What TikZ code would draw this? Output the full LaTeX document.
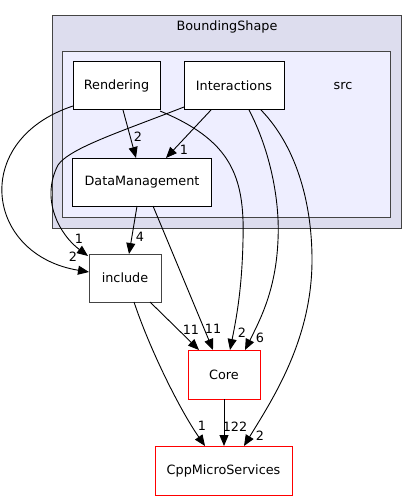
\documentclass[tikz,border=0pt]{standalone}
\usepackage{fontspec}
\setmainfont{DejaVu Sans}
\usetikzlibrary{arrows.meta}
\definecolor{clouter}{HTML}{DDDDEE}
\definecolor{clinner}{HTML}{EEEEFF}
\definecolor{clborder}{HTML}{444444}
\tikzset{
  box/.style={draw=black, fill=white, line width=1pt, inner sep=0pt, font=\fontsize{12.8}{14}\selectfont},
  redbox/.style={box, draw=red},
  graybox/.style={box, draw=clborder},
  dep/.style={draw=black, line width=0.9pt, -{Triangle[length=11pt,width=9pt]}},
  lab/.style={font=\fontsize{12.8}{14}\selectfont, inner sep=0pt},
  cltitle/.style={font=\fontsize{12.8}{14}\selectfont, inner sep=0pt}
}
\begin{document}
\begin{tikzpicture}[x=1pt,y=-1pt]
\useasboundingbox (0,0) rectangle (417,500);
% clusters
\draw[fill=clouter, draw=clborder, line width=1pt] (52,16) rectangle (401,228);
\node[cltitle] (bstitle) at (227,27) {BoundingShape};
\draw[fill=clinner, draw=clborder, line width=1pt] (62,52) rectangle (390,217);
\node[cltitle] (srctitle) at (343,86) {src};
% nodes
\node[box, minimum width=87pt, minimum height=48pt] (rend) at (116.5,86) {Rendering};
\node[box, minimum width=100pt, minimum height=48pt] (inter) at (234,86) {Interactions};
\node[box, minimum width=139pt, minimum height=48pt] (dm) at (142,182) {DataManagement};
\node[graybox, minimum width=72pt, minimum height=48pt] (inc) at (125,278) {include};
\node[redbox, minimum width=72pt, minimum height=49pt] (core) at (224,374.5) {Core};
\node[redbox, minimum width=137pt, minimum height=49pt] (cpp) at (223.5,470.5) {CppMicroServices};
% anchor coordinates
\coordinate (rendBL) at (73,106);
\coordinate (rendB) at (123,110);
\coordinate (rendBR) at (160,111);
\coordinate (interBL) at (184,107);
\coordinate (interB) at (211,110);
\coordinate (interB2) at (249,110);
\coordinate (interB3) at (261,110);
\coordinate (dmB1) at (137,206);
\coordinate (dmB2) at (153,206);
\coordinate (dmT1) at (136,158);
\coordinate (dmT2) at (166,158);
\coordinate (incT) at (129,254);
\coordinate (incTL) at (88,256);
\coordinate (incL) at (89,272);
\coordinate (incB1) at (134,302);
\coordinate (incB2) at (150,302);
\coordinate (coreT1) at (199,350);
\coordinate (coreT2) at (213,350);
\coordinate (coreT3) at (230,350);
\coordinate (coreT4) at (245,350);
\coordinate (coreB) at (224,399);
\coordinate (cppT1) at (205,446);
\coordinate (cppT2) at (224,446);
\coordinate (cppT3) at (244,446);
% edges
\draw[dep] (rendB) -- (dmT1);
\draw[dep] (interB) -- (dmT2);
\draw[dep] (rendBL) .. controls (-30,140) and (-15,255) .. (incL);
\draw[dep] (interBL) .. controls (120,132) and (70,148) .. (58,165) .. controls (40,200) and (60,235) .. (incTL);
\draw[dep] (rendBR) .. controls (230,140) and (245,175) .. (243,240) .. controls (242,290) and (236,320) .. (coreT3);
\draw[dep] (interB2) .. controls (270,150) and (280,200) .. (278,240) .. controls (276,290) and (260,320) .. (coreT4);
\draw[dep] (interB3) .. controls (295,145) and (312,200) .. (312,260) .. controls (312,340) and (272,400) .. (cppT3);
\draw[dep] (dmB1) -- (incT);
\draw[dep] (dmB2) -- (coreT2);
\draw[dep] (incB2) -- (coreT1);
\draw[dep] (incB1) .. controls (150,350) and (180,410) .. (cppT1);
\draw[dep] (coreB) -- (cppT2);
% edge labels
\node[lab] (l1) at (138,137) {2};
\node[lab] (l2) at (184,150) {1};
\node[lab] (l3) at (79,239) {1};
\node[lab] (l4) at (73,257) {2};
\node[lab] (l5) at (140,237) {4};
\node[lab] (l6) at (191,330) {11};
\node[lab] (l7) at (213,329) {11};
\node[lab] (l8) at (242,333) {2};
\node[lab] (l9) at (260,338) {6};
\node[lab] (l10) at (202,426) {1};
\node[lab] (l11) at (235,427) {122};
\node[lab] (l12) at (260,436) {2};
\end{tikzpicture}
\end{document}
